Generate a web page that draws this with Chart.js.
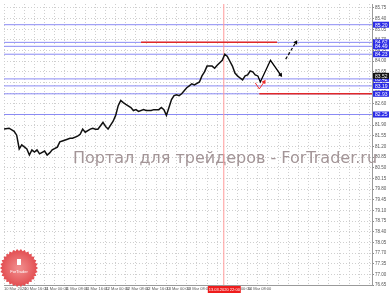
<!DOCTYPE html>
<html>
<head>
<meta charset="utf-8">
<script src="https://cdn.jsdelivr.net/npm/chart.js@4.4.0/dist/chart.umd.min.js"></script>
<style>
  html, body { margin: 0; padding: 0; background: #fff; }
</style>
</head>
<body>
<canvas id="chart" width="389" height="293"></canvas>
<script>
// price series (hours from start, close)
const hours = [0,2,4,5,6,7,9,10,11,12,13,14,16,17,18,19,21,22,23,25,26,27,29,30,31,32,34,35,36,37,39,40,41,42,43,44,45,46,47,48,50,51,52,53,55,56,58,59,61,62,63,64,65,66,67,68,69,70,72,73,74,75,77,78,79,80,82,83,84,86,87,88,89,90,91,92,93,94,95,96,97,98,99,100];
const prices = [81.77,81.80,81.70,81.57,81.12,81.25,81.12,80.92,81.09,81.02,81.09,80.96,81.05,80.92,80.99,81.09,81.18,81.35,81.38,81.44,81.47,81.47,81.54,81.60,81.77,81.67,81.77,81.80,81.77,81.77,81.99,81.86,81.77,81.90,82.03,82.22,82.54,82.71,82.64,82.58,82.48,82.38,82.41,82.35,82.41,82.38,82.38,82.41,82.41,82.48,82.41,82.22,82.48,82.74,82.87,82.90,82.87,82.93,83.13,83.19,83.26,83.22,83.32,83.52,83.65,83.84,83.84,83.77,83.87,84.03,84.23,84.16,84.00,83.84,83.61,83.52,83.45,83.39,83.52,83.55,83.68,83.65,83.55,83.52];

// hand drawn forecast
const forecastHours = [100, 101, 105, 109];
const forecastValues = [83.52, 83.32, 84.03, 83.55];
const dashHours = [111, 115];
const dashValues = [84.07, 84.62];
const redArrowHours = [99, 100.6, 102.5];
const redArrowValues = [83.29, 83.09, 83.32];

// levels
const blueLevels = [85.20, 84.62, 84.49, 84.23, 83.42, 83.19, 82.93, 82.25];
const redHighHours = [54, 107.6];
const redHighValue = 84.62;
const redLowHours = [100.6, 145];
const redLowValue = 82.93;
const markerHour = 86.6;
const markerLabel = '13.03.2020 22:00';
const lastPrice = 83.52;

// axes
const yTicks = [76.65,77.00,77.35,77.70,78.05,78.40,78.75,79.10,79.45,79.80,80.15,80.50,80.85,81.20,81.55,81.90,82.25,82.60,82.95,83.30,83.65,84.00,84.35,84.70,85.05,85.40,85.75];
const xTickHours = [0,8,16,24,32,40,48,56,64,72,80,88,96];
const xTickLabels = ['10 Mar 2020','10 Mar 16:00','11 Mar 00:00','11 Mar 08:00','11 Mar 16:00','12 Mar 00:00','12 Mar 08:00','12 Mar 16:00','13 Mar 00:00','13 Mar 08:00','13 Mar 16:00','14 Mar 00:00','14 Mar 08:00'];

const xMax = 145;
const yMin = 76.65;
const yMax = 85.88;

const pts = (xs, ys) => xs.map((x, i) => ({ x: x, y: Array.isArray(ys) ? ys[i] : ys }));

// arrow head rotation from the last segment
const arrowRotation = (ctx) => {
    const data = ctx.dataset.data;
    const i = ctx.dataIndex;
    if (i === 0) return 0;
    const sx = ctx.chart.scales.x, sy = ctx.chart.scales.y;
    const dx = sx.getPixelForValue(data[i].x) - sx.getPixelForValue(data[i - 1].x);
    const dy = sy.getPixelForValue(data[i].y) - sy.getPixelForValue(data[i - 1].y);
    return Math.atan2(dy, dx) * 180 / Math.PI + 90;
};
const arrowRadius = (ctx) => ctx.dataIndex === ctx.dataset.data.length - 1 ? 2.6 : 0;

const datasets = [
    {
        data: pts(hours, prices),
        borderColor: '#111', borderWidth: 1.5, pointRadius: 0
    },
    {
        data: pts(forecastHours, forecastValues),
        borderColor: '#000', backgroundColor: '#000', borderWidth: 1.3,
        pointStyle: 'triangle', pointRadius: arrowRadius, pointRotation: arrowRotation, pointBorderWidth: 0
    },
    {
        data: pts(dashHours, dashValues),
        borderColor: '#000', backgroundColor: '#000', borderWidth: 1.2, borderDash: [3, 2],
        pointStyle: 'triangle', pointRadius: arrowRadius, pointRotation: arrowRotation, pointBorderWidth: 0
    },
    {
        data: pts(redArrowHours, redArrowValues),
        borderColor: '#f03030', backgroundColor: '#f03030', borderWidth: 1,
        pointStyle: 'triangle', pointRadius: arrowRadius, pointRotation: arrowRotation, pointBorderWidth: 0
    },
    {
        data: pts(redHighHours, redHighValue),
        borderColor: '#e02828', borderWidth: 1.5, pointRadius: 0
    },
    {
        data: pts(redLowHours, redLowValue),
        borderColor: '#e02828', borderWidth: 1.5, pointRadius: 0
    },
    {
        data: pts([markerHour, markerHour], [yMin, yMax]),
        borderColor: '#ff9a9a', borderWidth: 1, pointRadius: 0
    }
];
blueLevels.forEach(v => {
    datasets.push({
        data: pts([0, xMax], v),
        borderColor: '#8a8af4', borderWidth: 1, pointRadius: 0
    });
});

const decor = {
    id: 'decor',
    beforeDatasetsDraw(chart) {
        const ctx = chart.ctx;
        ctx.save();
        ctx.font = '16px "DejaVu Sans"';
        ctx.fillStyle = '#a39597';
        ctx.textBaseline = 'alphabetic';
        ctx.fillText('Портал для трейдеров - ForTrader.ru', 73, 163, 312);
        ctx.restore();
    },
    afterDraw(chart) {
        const ctx = chart.ctx;
        const sx = chart.scales.x, sy = chart.scales.y;
        const right = chart.chartArea.right;
        ctx.save();
        ctx.font = '5px "Liberation Sans"';
        ctx.textBaseline = 'middle';
        // level boxes on the price axis
        const box = (v, color) => {
            const py = sy.getPixelForValue(v);
            ctx.fillStyle = color;
            ctx.fillRect(right + 1, py - 3, 389 - right - 1, 6);
            ctx.fillStyle = '#fff';
            ctx.fillText(v.toFixed(2), right + 3, py + 0.5);
        };
        blueLevels.forEach(v => box(v, '#2a2ae6'));
        box(lastPrice, '#111');
        // time label of the red marker line
        const mx = sx.getPixelForValue(markerHour);
        ctx.font = '4px "Liberation Sans"';
        ctx.fillStyle = '#ee1c1c';
        ctx.fillRect(mx - 16, chart.chartArea.bottom + 1, 33, 7);
        ctx.fillStyle = '#fff';
        ctx.textAlign = 'center';
        ctx.fillText(markerLabel, mx + 0.5, chart.chartArea.bottom + 4.5);
        // logo
        const cx = 19, cy = 268, spikes = 30;
        ctx.beginPath();
        for (let i = 0; i < spikes * 2; i++) {
            const r = i % 2 ? 17 : 19;
            const a = Math.PI * i / spikes;
            ctx.lineTo(cx + r * Math.cos(a), cy + r * Math.sin(a));
        }
        ctx.closePath();
        const g = ctx.createRadialGradient(cx, cy, 2, cx, cy, 19);
        g.addColorStop(0, '#f08a8a');
        g.addColorStop(1, '#e24b4f');
        ctx.fillStyle = g;
        ctx.fill();
        ctx.fillStyle = '#fff';
        ctx.fillRect(cx - 2, cy - 9, 4, 6);
        ctx.fillText('ForTrader', cx, cy + 4);
        ctx.restore();
    }
};

new Chart(document.getElementById('chart'), {
    type: 'line',
    data: { datasets: datasets },
    options: {
        responsive: false,
        animation: false,
        layout: { padding: 0 },
        plugins: { legend: { display: false }, tooltip: { enabled: false } },
        scales: {
            x: {
                type: 'linear', min: 0, max: xMax,
                afterBuildTicks: scale => {
                    const t = [];
                    for (let h = 0; h <= xMax; h += 4) t.push({ value: h });
                    scale.ticks = t;
                },
                afterFit: scale => {
                    scale.height = 8;
                    scale.paddingLeft = 0;
                    scale.paddingRight = 0;
                },
                ticks: {
                    autoSkip: false, maxRotation: 0, align: 'start', padding: 1,
                    color: '#555', font: { size: 4, family: 'Liberation Sans' },
                    callback: v => {
                        const i = xTickHours.indexOf(v);
                        return i >= 0 ? xTickLabels[i] : '';
                    }
                },
                grid: { color: '#cfcfcf', drawTicks: false },
                border: { display: true, color: '#9a9a9a', dash: [1, 2] }
            },
            y: {
                type: 'linear', position: 'right', min: yMin, max: yMax,
                afterBuildTicks: scale => {
                    scale.ticks = yTicks.map(v => ({ value: v }));
                },
                afterFit: scale => {
                    scale.width = 17;
                    scale.paddingTop = 0;
                    scale.paddingBottom = 0;
                },
                ticks: {
                    padding: 1, color: '#555',
                    font: { size: 4.5, family: 'Liberation Sans' },
                    callback: v => v.toFixed(2)
                },
                grid: { color: '#cfcfcf', tickLength: 2, tickColor: '#888' },
                border: { display: true, color: '#9a9a9a', dash: [1, 2] }
            }
        }
    },
    plugins: [decor]
});
</script>
</body>
</html>
